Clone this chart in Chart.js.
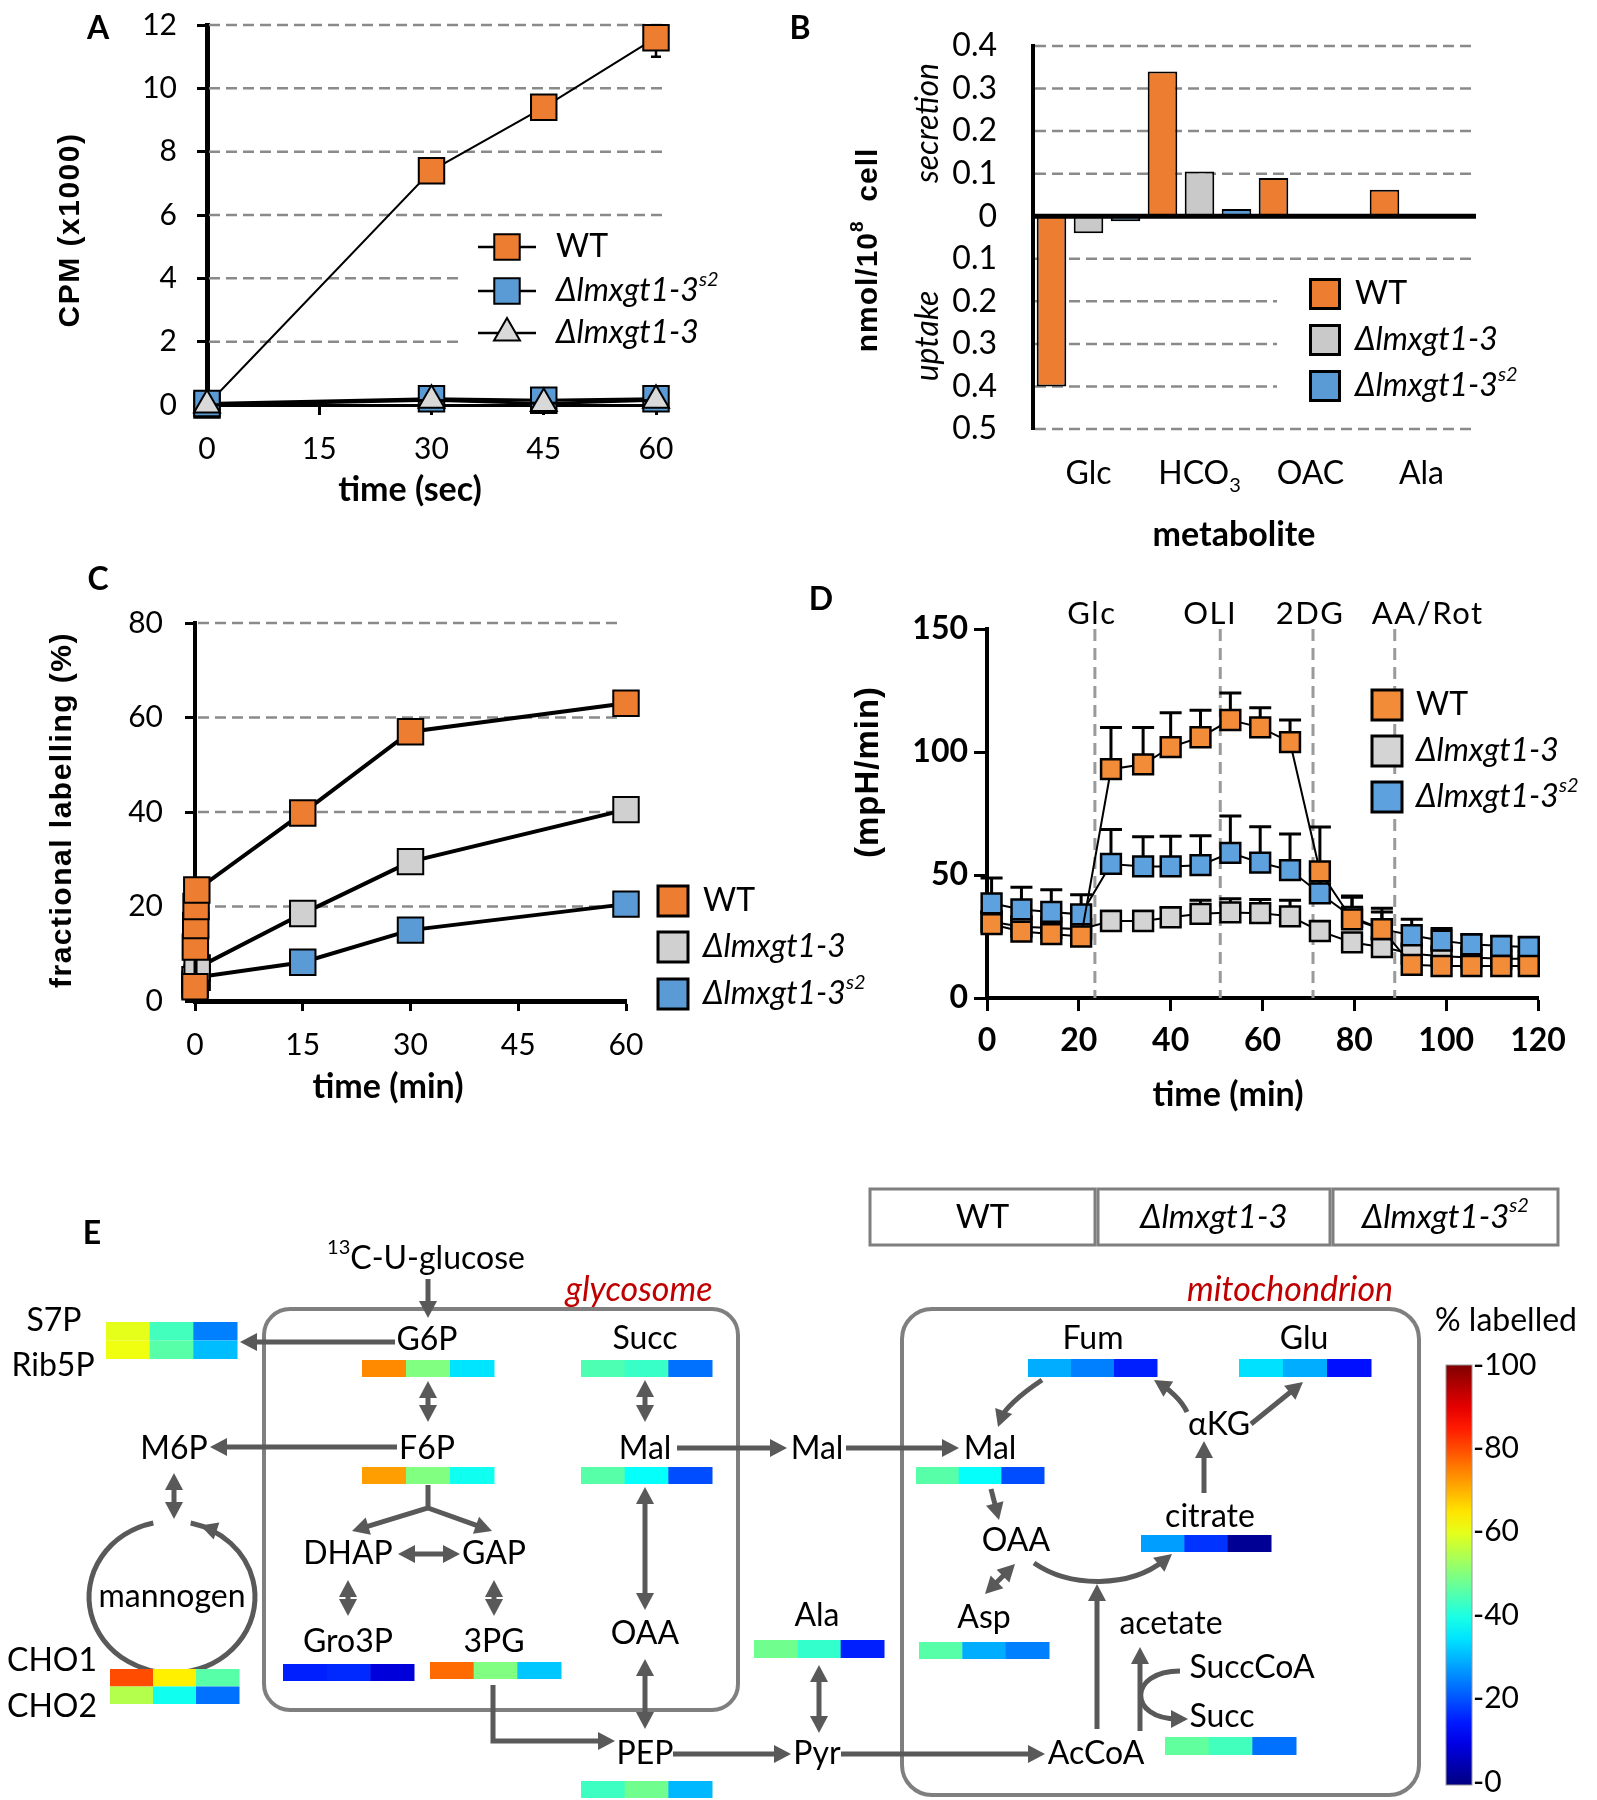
<!DOCTYPE html>
<html>
<head>
<meta charset="utf-8">
<title>Glucose uptake and metabolism</title>
<script src="https://cdn.jsdelivr.net/npm/chart.js@4.4.1/dist/chart.umd.min.js"></script>
<style>
  html, body { margin: 0; padding: 0; background: #fff; }
  body { position: relative; width: 1597px; height: 1800px; overflow: hidden; }
  canvas { position: absolute; }
</style>
</head>
<body>
<canvas id="panelA" width="760" height="520" style="left:0;top:0"></canvas>
<canvas id="panelB" width="837" height="560" style="left:760px;top:0"></canvas>
<canvas id="panelC" width="900" height="580" style="left:0;top:540px"></canvas>
<canvas id="panelD" width="797" height="560" style="left:800px;top:560px"></canvas>
<canvas id="panelE" width="1597" height="630" style="left:0;top:1170px"></canvas>
<script>
// strain names; {..} is superscript, [..] is subscript
const strains = ['WT', 'Δlmxgt1-3', 'Δlmxgt1-3{s2}'];

// A - uptake (CPM x1000)
const uptakeTime = [0, 30, 45, 60];
const uptakeWT = [0, 7.4, 9.4, 11.6];
const uptakeWTErrDown = [0, 0, 0, 0.6];
const uptakeKO = [0, 0.15, 0.05, 0.15];
const uptakeS2 = [0.05, 0.2, 0.15, 0.2];

// B - secretion (+) / uptake (-), nmol/10^8 cell
const metabolites = ['Glc', 'HCO[3]', 'OAC', 'Ala'];
const fluxWT = [-0.40, 0.34, 0.09, 0.062];
const fluxKO = [-0.04, 0.105, 0, 0];
const fluxS2 = [-0.012, 0.017, 0, 0];

// C - fractional labelling (%)
const fracTimeWT = [0, 0.05, 0.1, 0.15, 0.25, 15, 30, 60];
const fracWT = [3, 11.4, 16, 20, 23.5, 39.8, 57, 63];
const fracTimeMut = [0, 0.3, 15, 30, 60];
const fracKO = [4.5, 7, 18.5, 29.5, 40.5];
const fracS2 = [3.5, 5, 8.2, 15, 20.5];

// D - acidification rate (mpH/min)
const ecarTime = [1, 7.5, 14, 20.5, 27, 34, 40, 46.5, 53, 59.5, 66, 72.5, 79.5, 86, 92.5, 99, 105.5, 112, 118];
const ecarWT = [30, 27, 26, 25, 93, 95, 102, 106, 113, 110, 104, 51.5, 32, 28, 13.5, 13, 13, 13, 13];
const ecarWTErr = [5, 5, 5, 5, 17, 15, 14, 11, 11, 8, 9, 18, 9.5, 8.5, 4, 3, 3, 3, 3];
const ecarKO = [31, 29, 28.5, 28, 31.3, 31.3, 32.8, 34.2, 34.8, 34.5, 33.2, 27.2, 22.6, 20.7, 18, 17, 16.5, 16, 16];
const ecarKOErr = [4, 4, 4, 4, 4, 4, 4, 5.5, 5.5, 5.5, 6.5, 4, 3, 3, 3, 3, 3, 3, 3];
const ecarS2 = [38.5, 36, 35, 34, 54.5, 53.5, 53.5, 54, 59, 55, 52, 42.5, 33, 28, 25.5, 23.3, 21.8, 21.1, 20.7];
const ecarS2Err = [10.3, 9, 9, 8, 14, 12, 12.3, 12, 15, 14.6, 14.7, 9, 8, 7, 6.5, 5, 4, 4, 4];
const injections = ['Glc', 'OLI', '2DG', 'AA/Rot'];
const injectionTime = [23.5, 50.8, 71, 88.8];

// E - % 13C labelling per metabolite, one list per strain
const eMetabolites = ['S7P', 'Rib5P', 'G6P', 'F6P', 'Succ (glycosome)', 'Mal (glycosome)', 'Gro3P', '3PG',
  'CHO1', 'CHO2', 'PEP', 'Ala', 'Mal (mitochondrion)', 'Fum', 'Glu', 'citrate', 'Asp', 'Succ (mitochondrion)'];
const eLabelWT = [60, 61, 74, 72, 45, 46, 15.5, 77, 80, 55, 43.5, 48.5, 46, 29.5, 34.5, 28, 46, 47];
const eLabelKO = [44, 46, 50, 50, 43, 38, 16.5, 50, 64, 39, 48.5, 42.5, 38, 25, 29.5, 17.5, 29.5, 44];
const eLabelS2 = [25, 31, 35, 39, 23.5, 20, 9, 32, 46, 23.5, 30.5, 15.5, 20, 15.5, 14, 2, 25, 23.5];
const colorbarTicks = [0, 20, 40, 60, 80, 100];

// ---------- helpers ----------
Chart.defaults.font.family = 'Lato';
Chart.defaults.color = '#000';

const ORANGE = '#ED7D31', BLUE = '#5B9BD5', GREY = '#C9C9C9';
const ORANGE_D = '#F28C38', BLUE_D = '#5DA2DF', GREY_D = '#D4D4D4';
const YFONT = 'bold 30px "Liberation Sans"';

const pts = (xs, ys) => xs.map((x, i) => ({ x, y: ys[i] }));

function rich(ctx, s, x, y, font, align) {
  const segs = [];
  s.replace(/\{([^}]*)\}|\[([^\]]*)\]|([^{[]+)/g, (m, sup, sub, txt) => {
    segs.push(sup !== undefined ? { t: sup, d: -1 } : sub !== undefined ? { t: sub, d: 1 } : { t: txt, d: 0 });
    return m;
  });
  const size = parseFloat(/(\d+(?:\.\d+)?)px/.exec(font)[1]);
  const small = font.replace(/\d+(?:\.\d+)?px/, Math.round(size * 0.62) + 'px');
  let w = 0;
  segs.forEach(g => { ctx.font = g.d ? small : font; g.w = ctx.measureText(g.t).width; w += g.w; });
  let cx = align === 'center' ? x - w / 2 : align === 'right' ? x - w : x;
  ctx.textAlign = 'left';
  ctx.textBaseline = 'middle';
  segs.forEach(g => {
    ctx.font = g.d ? small : font;
    ctx.fillText(g.t, cx, y + g.d * size * 0.36);
    cx += g.w;
  });
  return w;
}

function richUp(ctx, s, x, y, font, spacing) {
  ctx.save();
  ctx.translate(x, y);
  ctx.rotate(-Math.PI / 2);
  ctx.letterSpacing = spacing || '0px';
  rich(ctx, s, 0, 0, font, 'center');
  ctx.restore();
}

// draw in page coordinates; X/Y map data values through the chart scales
function overlay(ox, oy, before, after) {
  const wrap = fn => chart => {
    if (!fn) return;
    const ctx = chart.ctx;
    const X = v => chart.scales.x.getPixelForValue(v) + ox;
    const Y = v => chart.scales.y.getPixelForValue(v) + oy;
    ctx.save();
    ctx.translate(-ox, -oy);
    ctx.fillStyle = '#000';
    fn(ctx, X, Y, chart);
    ctx.restore();
  };
  return { id: 'overlay', beforeDatasetsDraw: wrap(before), afterDraw: wrap(after) };
}

function dashLine(ctx, x1, y1, x2, y2, color, width, dash) {
  ctx.save();
  ctx.strokeStyle = color || '#8a8a8a';
  ctx.lineWidth = width || 2.5;
  ctx.setLineDash(dash || [11, 6]);
  ctx.beginPath();
  ctx.moveTo(x1, y1);
  ctx.lineTo(x2, y2);
  ctx.stroke();
  ctx.restore();
}

function errorBars(ctx, chart, X, Y, cap, lw) {
  chart.data.datasets.forEach(ds => {
    if (!ds.errUp && !ds.errDown) return;
    ctx.strokeStyle = '#000';
    ctx.lineWidth = lw;
    ds.data.forEach((p, j) => {
      const up = ds.errUp ? ds.errUp[j] : 0, dn = ds.errDown ? ds.errDown[j] : 0;
      if (!up && !dn) return;
      const x = X(p.x), y1 = Y(p.y + up), y0 = Y(p.y - dn);
      ctx.beginPath();
      ctx.moveTo(x, y0); ctx.lineTo(x, y1);
      if (up) { ctx.moveTo(x - cap, y1); ctx.lineTo(x + cap, y1); }
      if (dn) { ctx.moveTo(x - cap, y0); ctx.lineTo(x + cap, y0); }
      ctx.stroke();
    });
  });
}

function series(label, xs, ys, fill, style, radius, lineWidth, extra) {
  return Object.assign({
    label, data: pts(xs, ys), showLine: true, clip: false,
    borderColor: '#000', borderWidth: lineWidth,
    pointStyle: style, pointRadius: radius,
    pointBackgroundColor: fill, pointBorderColor: '#000', pointBorderWidth: 2
  }, extra);
}

// fixed axis size, and no extra room for the end tick labels
const fixW = w => s => { s.width = w; s.paddingTop = 0; s.paddingBottom = 0; };
const fixH = h => s => { s.height = h; s.paddingLeft = 0; s.paddingRight = 0; };

function linAxis(min, max, step, fit, font, pad, borderW, tick) {
  return {
    type: 'linear', min, max, afterFit: fit,
    ticks: { stepSize: step, autoSkip: false, padding: pad, font, color: '#000' },
    grid: { drawOnChartArea: false, drawTicks: true, tickLength: tick || 10, tickWidth: 3, tickColor: '#000' },
    border: { color: '#000', width: borderW }
  };
}

const base = pad => ({
  responsive: false, animation: false, events: [],
  layout: { padding: pad },
  plugins: { legend: { display: false }, tooltip: { enabled: false } }
});

function squareKey(ctx, cx, cy, side, fill) {
  ctx.fillStyle = fill;
  ctx.fillRect(cx - side / 2, cy - side / 2, side, side);
  ctx.strokeStyle = '#000';
  ctx.lineWidth = 3;
  ctx.strokeRect(cx - side / 2, cy - side / 2, side, side);
  ctx.fillStyle = '#000';
}

const LETTER = 'bold 32px Lato';

// ---------- A ----------
new Chart(document.getElementById('panelA'), {
  type: 'scatter',
  data: { datasets: [
    series(strains[1], uptakeTime, uptakeKO, '#D9D9D9', 'triangle', 15, 3, { order: 0 }),
    series(strains[2], uptakeTime, uptakeS2, BLUE, 'rect', 18, 3, { order: 1 }),
    series(strains[0], uptakeTime, uptakeWT, ORANGE, 'rect', 18, 2, { order: 2, errDown: uptakeWTErrDown })
  ] },
  options: Object.assign(base({ left: 0, top: 25, right: 104, bottom: 0 }), {
    scales: {
      x: linAxis(0, 60, 15, fixH(115), { size: 30 }, 16, 3),
      y: linAxis(0, 12, 2, fixW(207), { size: 30 }, 20, 5)
    }
  }),
  plugins: [overlay(0, 0, (ctx, X, Y, chart) => {
    [6, 8, 10, 12].forEach(v => dashLine(ctx, 209, Y(v), 663, Y(v)));
    [2, 4].forEach(v => dashLine(ctx, 209, Y(v), 460, Y(v)));
    errorBars(ctx, chart, X, Y, 5, 2.5);
  }, (ctx) => {
    const rows = [[247, 'rect', ORANGE, 18, 0], [291, 'rect', BLUE, 18, 2], [333, 'triangle', '#D9D9D9', 15, 1]];
    rows.forEach(([y, st, col, r, k]) => {
      ctx.strokeStyle = '#000'; ctx.lineWidth = 2.5;
      ctx.beginPath(); ctx.moveTo(478, y); ctx.lineTo(536, y); ctx.stroke();
      ctx.fillStyle = col; ctx.lineWidth = 2;
      Chart.helpers.drawPoint(ctx, { pointStyle: st, radius: r, borderWidth: 2, rotation: 0 }, 507, y);
      ctx.fillStyle = '#000';
      rich(ctx, strains[k], 556, y, (k ? 'italic ' : '') + '32px Lato', 'left');
    });
    richUp(ctx, 'CPM (x1000)', 71, 230, YFONT, '1.5px');
    rich(ctx, 'time (sec)', 410, 490, 'bold 34px Lato', 'center');
    rich(ctx, 'A', 98, 29, LETTER, 'center');
  })]
});

// ---------- B ----------
new Chart(document.getElementById('panelB'), {
  type: 'bar',
  data: {
    labels: metabolites,
    datasets: [
      { label: strains[0], data: fluxWT, backgroundColor: ORANGE },
      { label: strains[1], data: fluxKO, backgroundColor: GREY },
      { label: strains[2], data: fluxS2, backgroundColor: BLUE }
    ].map(d => Object.assign(d, { borderColor: '#000', borderWidth: 2, borderSkipped: false, categoryPercentage: 1, barPercentage: 0.8 }))
  },
  options: Object.assign(base({ left: 0, top: 46, right: 120, bottom: 0 }), {
    scales: {
      x: { afterFit: fixH(131), ticks: { display: false }, grid: { display: false, drawTicks: false }, border: { display: false } },
      y: {
        min: -0.5, max: 0.4, afterFit: fixW(273),
        ticks: { stepSize: 0.1, padding: 36, font: { size: 32 }, callback: v => Math.abs(v) < 1e-6 ? '0' : Math.abs(v).toFixed(1) },
        grid: { display: false, drawTicks: false },
        border: { color: '#000', width: 4 }
      }
    }
  }),
  plugins: [overlay(760, 0, (ctx, X, Y) => {
    [0.4, 0.3, 0.2, 0.1, -0.1, -0.5].forEach(v => dashLine(ctx, 1035, Y(v), 1476, Y(v)));
    [-0.2, -0.3, -0.4].forEach(v => dashLine(ctx, 1035, Y(v), 1277, Y(v)));
  }, (ctx, X, Y) => {
    ctx.strokeStyle = '#000'; ctx.lineWidth = 5;
    ctx.beginPath(); ctx.moveTo(1033, Y(0)); ctx.lineTo(1476, Y(0)); ctx.stroke();
    metabolites.forEach((m, i) => rich(ctx, m, X(i), 474, '32px Lato', 'center'));
    rich(ctx, 'metabolite', 1234, 535, 'bold 34px Lato', 'center');
    richUp(ctx, 'nmol/10{8}  cell', 869, 250, YFONT, '1px');
    richUp(ctx, 'secretion', 928, 123, 'italic 32px Lato');
    richUp(ctx, 'uptake', 928, 336, 'italic 32px Lato');
    [[294, ORANGE, 0], [340, GREY, 1], [386, BLUE, 2]].forEach(([y, c, k]) => {
      squareKey(ctx, 1325, y, 29, c);
      rich(ctx, strains[k], 1355, y, (k ? 'italic ' : '') + '32px Lato', 'left');
    });
    rich(ctx, 'B', 800, 29, LETTER, 'center');
  })]
});

// ---------- C ----------
new Chart(document.getElementById('panelC'), {
  type: 'scatter',
  data: { datasets: [
    series(strains[0], fracTimeWT, fracWT, ORANGE, 'rect', 18, 4, { order: 0 }),
    series(strains[1], fracTimeMut, fracKO, '#D0D0D0', 'rect', 18, 4, { order: 1 }),
    series(strains[2], fracTimeMut, fracS2, BLUE, 'rect', 18, 4, { order: 2 })
  ] },
  options: Object.assign(base({ left: 0, top: 83, right: 274, bottom: 0 }), {
    scales: {
      x: linAxis(0, 60, 15, fixH(119), { size: 30 }, 16, 5),
      y: linAxis(0, 80, 20, fixW(195), { size: 30 }, 22, 4)
    }
  }),
  plugins: [overlay(0, 540, (ctx, X, Y) => {
    [20, 40, 60, 80].forEach(v => dashLine(ctx, 198, Y(v), 622, Y(v)));
  }, (ctx) => {
    [[901, ORANGE, 0], [947, '#D0D0D0', 1], [994, BLUE, 2]].forEach(([y, c, k]) => {
      squareKey(ctx, 673, y, 30, c);
      rich(ctx, strains[k], 703, y, (k ? 'italic ' : '') + '32px Lato', 'left');
    });
    richUp(ctx, 'fractional labelling (%)', 63, 810, YFONT, '1.5px');
    rich(ctx, 'time (min)', 388, 1087, 'bold 34px Lato', 'center');
    rich(ctx, 'C', 98, 580, LETTER, 'center');
  })]
});

// ---------- D ----------
new Chart(document.getElementById('panelD'), {
  type: 'scatter',
  data: { datasets: [
    series(strains[0], ecarTime, ecarWT, ORANGE_D, 'rect', 14, 2, { order: 0, errUp: ecarWTErr, pointBorderWidth: 2.5 }),
    series(strains[2], ecarTime, ecarS2, BLUE_D, 'rect', 14, 2, { order: 1, errUp: ecarS2Err, pointBorderWidth: 2.5 }),
    series(strains[1], ecarTime, ecarKO, GREY_D, 'rect', 14, 2, { order: 2, errUp: ecarKOErr, pointBorderWidth: 2.5 })
  ] },
  options: Object.assign(base({ left: 0, top: 69, right: 59, bottom: 0 }), {
    scales: {
      x: linAxis(0, 120, 20, fixH(122), { size: 32, weight: 'bold' }, 10, 4, 13),
      y: linAxis(0, 150, 50, fixW(187), { size: 32, weight: 'bold' }, 6, 4, 13)
    }
  }),
  plugins: [overlay(800, 560, (ctx, X, Y, chart) => {
    injectionTime.forEach(t => dashLine(ctx, X(t), Y(150), X(t), Y(0), '#9a9a9a', 3, [12, 7]));
    errorBars(ctx, chart, X, Y, 11, 3);
  }, (ctx, X) => {
    const nudge = [-3, -10, -3, 33];
    ctx.letterSpacing = '1.5px';
    injections.forEach((s, i) => rich(ctx, s, X(injectionTime[i]) + nudge[i], 614, '31px Lato', 'center'));
    ctx.letterSpacing = '0px';
    [[705, ORANGE_D, 0], [751, GREY_D, 1], [797, BLUE_D, 2]].forEach(([y, c, k]) => {
      squareKey(ctx, 1387, y, 30, c);
      rich(ctx, strains[k], 1416, y, (k ? 'italic ' : '') + '32px Lato', 'left');
    });
    richUp(ctx, '(mpH/min)', 869, 772, 'bold 33px "Liberation Sans"', '1px');
    rich(ctx, 'time (min)', 1228, 1095, 'bold 34px Lato', 'center');
    rich(ctx, 'D', 821, 600, LETTER, 'center');
  })]
});

// ---------- E : labelling map ----------
function jet(v) {
  const t = Math.max(0, Math.min(1, v / 100));
  const c = k => Math.round(255 * Math.max(0, Math.min(1, 1.5 - Math.abs(4 * t - k))));
  return `rgb(${c(3)},${c(2)},${c(1)})`;
}

// where each heat strip sits: [left, top, width, height]
const stripAt = {
  'S7P': [106, 1322, 131, 18.5], 'Rib5P': [106, 1340.5, 131, 18.5],
  'G6P': [362, 1360, 132, 17], 'F6P': [362, 1467, 132, 17],
  'Succ (glycosome)': [581, 1360, 131, 17], 'Mal (glycosome)': [581, 1467, 131, 17],
  'Gro3P': [283, 1664, 131, 17], '3PG': [430, 1662, 131, 17],
  'CHO1': [110, 1669, 129, 17.5], 'CHO2': [110, 1686.5, 129, 17.5],
  'PEP': [581, 1781, 131, 17], 'Ala': [754, 1640, 130, 18],
  'Mal (mitochondrion)': [916, 1467, 128, 17], 'Fum': [1028, 1359, 129, 18],
  'Glu': [1239, 1359, 132, 18], 'citrate': [1141, 1535, 130, 17],
  'Asp': [919, 1642, 130, 17], 'Succ (mitochondrion)': [1165, 1737, 131, 18]
};

const nodeText = [
  ['{13}C-U-glucose', 426, 1259], ['G6P', 427, 1340], ['Succ', 645, 1339], ['S7P', 54, 1321], ['Rib5P', 53, 1366],
  ['F6P', 427, 1449], ['M6P', 174, 1449], ['Mal', 645, 1449], ['Mal', 817, 1449], ['Mal', 990, 1449],
  ['DHAP', 348, 1554], ['GAP', 494, 1554], ['Gro3P', 348, 1642], ['3PG', 494, 1642],
  ['OAA', 645, 1634], ['PEP', 645, 1754], ['Pyr', 817, 1754], ['Ala', 817, 1616], ['AcCoA', 1096, 1754],
  ['CHO1', 52, 1661], ['CHO2', 52, 1707], ['Fum', 1093, 1339], ['Glu', 1304, 1339], ['αKG', 1219, 1425],
  ['citrate', 1210, 1517], ['OAA', 1016, 1541], ['Asp', 984, 1618], ['acetate', 1171, 1624],
  ['SuccCoA', 1252, 1668], ['Succ', 1222, 1717]
];

function arrowHead(ctx, tip, ang) {
  const L = 17, H = 9, c = Math.cos(ang), s = Math.sin(ang);
  ctx.beginPath();
  ctx.moveTo(tip[0], tip[1]);
  ctx.lineTo(tip[0] - L * c - H * s, tip[1] - L * s + H * c);
  ctx.lineTo(tip[0] - L * c + H * s, tip[1] - L * s - H * c);
  ctx.closePath();
  ctx.fill();
}

function arrow(ctx, pts, h0, h1) {
  const p = pts.map(q => q.slice()), n = p.length;
  const a1 = Math.atan2(p[n - 1][1] - p[n - 2][1], p[n - 1][0] - p[n - 2][0]);
  const a0 = Math.atan2(p[0][1] - p[1][1], p[0][0] - p[1][0]);
  const t1 = p[n - 1].slice(), t0 = p[0].slice();
  if (h1) { p[n - 1][0] -= 12 * Math.cos(a1); p[n - 1][1] -= 12 * Math.sin(a1); }
  if (h0) { p[0][0] -= 12 * Math.cos(a0); p[0][1] -= 12 * Math.sin(a0); }
  ctx.beginPath();
  ctx.moveTo(p[0][0], p[0][1]);
  p.slice(1).forEach(q => ctx.lineTo(q[0], q[1]));
  ctx.stroke();
  if (h1) arrowHead(ctx, t1, a1);
  if (h0) arrowHead(ctx, t0, a0);
}

function curveArrow(ctx, p0, c1, c2, p1) {
  const a = Math.atan2(p1[1] - c2[1], p1[0] - c2[0]);
  const e = [p1[0] - 10 * Math.cos(a), p1[1] - 10 * Math.sin(a)];
  ctx.beginPath();
  ctx.moveTo(p0[0], p0[1]);
  ctx.bezierCurveTo(c1[0], c1[1], c2[0], c2[1], e[0], e[1]);
  ctx.stroke();
  arrowHead(ctx, p1, a);
}

function drawPathway(ctx, X, Y) {
  // compartments and strain header
  ctx.strokeStyle = '#7f7f7f';
  ctx.lineWidth = 4;
  ctx.beginPath(); ctx.roundRect(264, 1309, 474, 401, 26); ctx.stroke();
  ctx.beginPath(); ctx.roundRect(902, 1309, 517, 486, 30); ctx.stroke();
  ctx.lineWidth = 3;
  [[870, 225], [1098, 232], [1333, 225]].forEach(([x, w], i) => {
    ctx.strokeStyle = '#7f7f7f';
    ctx.strokeRect(x, 1189, w, 56);
    ctx.fillStyle = '#000';
    rich(ctx, strains[i], x + w / 2, 1217, (i ? 'italic ' : '') + '33px Lato', 'center');
  });

  // reactions
  ctx.strokeStyle = '#595959';
  ctx.fillStyle = '#595959';
  ctx.lineWidth = 5;
  const straight = [
    [[[428, 1279], [428, 1318]], 0, 1], [[[395, 1342], [240, 1342]], 0, 1],
    [[[428, 1381], [428, 1422]], 1, 1], [[[397, 1447], [210, 1447]], 0, 1],
    [[[174, 1473], [174, 1519]], 1, 1], [[[398, 1554], [460, 1554]], 1, 1],
    [[[428, 1485], [428, 1508], [352, 1531]], 0, 1], [[[428, 1508], [492, 1531]], 0, 1],
    [[[348, 1580], [348, 1616]], 1, 1], [[[494, 1580], [494, 1616]], 1, 1],
    [[[493, 1685], [493, 1741], [615, 1741]], 0, 1],
    [[[645, 1380], [645, 1422]], 1, 1], [[[645, 1487], [645, 1610]], 1, 1], [[[645, 1659], [645, 1729]], 1, 1],
    [[[677, 1448], [787, 1448]], 0, 1], [[[846, 1448], [959, 1448]], 0, 1],
    [[[673, 1754], [791, 1754]], 0, 1], [[[841, 1754], [1045, 1754]], 0, 1],
    [[[819, 1665], [819, 1733]], 1, 1], [[[991, 1489], [999, 1520]], 0, 1],
    [[[1251, 1424], [1303, 1382]], 0, 1], [[[1204, 1493], [1204, 1441]], 0, 1],
    [[[1097, 1729], [1097, 1584]], 0, 1], [[[1015, 1564], [985, 1594]], 1, 1],
    [[[1140, 1731], [1140, 1647]], 0, 1]
  ];
  straight.forEach(([p, a, b]) => arrow(ctx, p, a, b));
  curveArrow(ctx, [1042, 1380], [1018, 1396], [1004, 1410], [998, 1427]);
  curveArrow(ctx, [1187, 1412], [1181, 1399], [1168, 1389], [1154, 1380]);
  curveArrow(ctx, [1034, 1563], [1070, 1588], [1130, 1588], [1172, 1554]);
  curveArrow(ctx, [1180, 1671], [1128, 1671], [1128, 1719], [1188, 1719]);

  // mannogen cycle
  const rad = d => d * Math.PI / 180;
  ctx.beginPath();
  ctx.ellipse(172, 1597, 83, 76, 0, rad(-103), rad(-77), true);
  ctx.stroke();
  const th = rad(-70);
  arrowHead(ctx, [172 + 83 * Math.cos(th), 1597 + 76 * Math.sin(th)], Math.atan2(-76 * Math.cos(th), 83 * Math.sin(th)));

  // names
  ctx.fillStyle = '#000';
  nodeText.forEach(([s, x, y]) => rich(ctx, s, x, y, '32px Lato', 'center'));
  ctx.font = '32px Lato';
  const mw = ctx.measureText('mannogen').width;
  ctx.fillStyle = '#fff';
  ctx.fillRect(172 - mw / 2, 1582, mw, 30);
  ctx.fillStyle = '#000';
  rich(ctx, 'mannogen', 172, 1597, '32px Lato', 'center');
  ctx.fillStyle = '#C00000';
  rich(ctx, 'glycosome', 639, 1290, 'italic 34px Lato', 'center');
  rich(ctx, 'mitochondrion', 1290, 1290, 'italic 34px Lato', 'center');
  ctx.fillStyle = '#000';
  rich(ctx, 'E', 92, 1234, LETTER, 'center');

  // heat strips
  eMetabolites.forEach((m, i) => {
    const [x, y, w, h] = stripAt[m];
    [eLabelWT[i], eLabelKO[i], eLabelS2[i]].forEach((v, k) => {
      const x0 = X(x + k * w / 3), x1 = X(x + (k + 1) * w / 3);
      ctx.fillStyle = jet(v);
      ctx.fillRect(x0, Y(y), x1 - x0 + 0.5, Y(y + h) - Y(y));
    });
  });

  // colour bar
  const top = 1365, bot = 1785;
  const g = ctx.createLinearGradient(0, bot, 0, top);
  for (let v = 0; v <= 100; v += 5) g.addColorStop(v / 100, jet(v));
  ctx.fillStyle = g;
  ctx.fillRect(1446, top, 26, bot - top);
  ctx.strokeStyle = '#999';
  ctx.lineWidth = 1;
  ctx.strokeRect(1446, top, 26, bot - top);
  ctx.fillStyle = '#000';
  colorbarTicks.forEach(v => rich(ctx, '-' + v, 1473, bot - 3 - v / 100 * (bot - top - 3), '30px Lato', 'left'));
  rich(ctx, '% labelled', 1506, 1321, '32px Lato', 'center');
}

new Chart(document.getElementById('panelE'), {
  type: 'scatter',
  data: { datasets: [] },
  options: Object.assign(base(0), {
    scales: {
      x: { type: 'linear', display: false, min: 0, max: 1597 },
      y: { type: 'linear', display: false, min: 1170, max: 1800, reverse: true }
    }
  }),
  plugins: [overlay(0, 1170, null, drawPathway)]
});
</script>
</body>
</html>
